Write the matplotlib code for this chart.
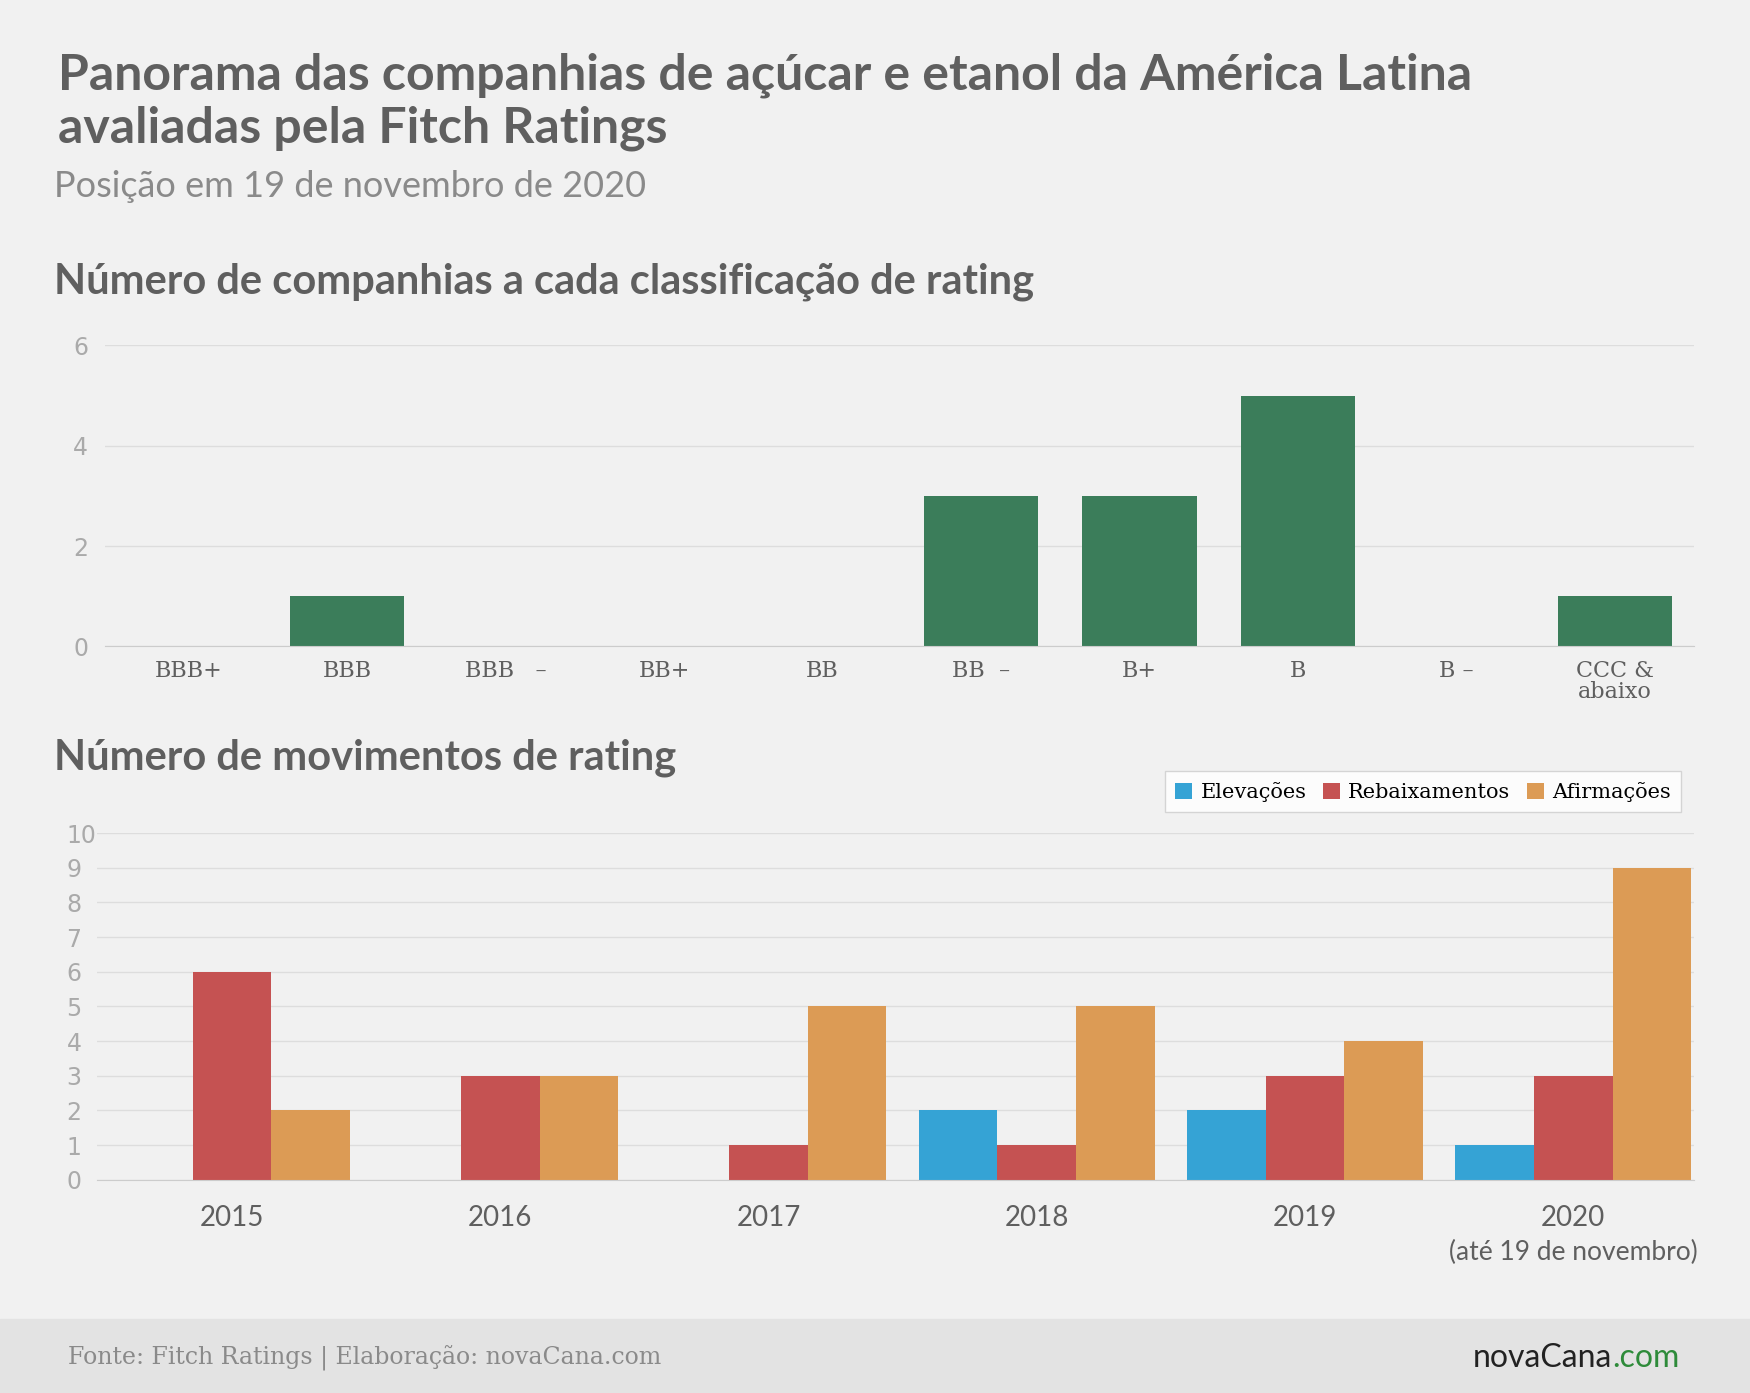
import matplotlib
matplotlib.use("Agg")
import matplotlib.pyplot as plt
import numpy as np
from matplotlib.patches import Rectangle

ratings = ["BBB+", "BBB", "BBB   –", "BB+", "BB", "BB  –", "B+", "B", "B –", "CCC &\nabaixo"]
companies = [0, 1, 0, 0, 0, 3, 3, 5, 0, 1]
years = ["2015", "2016", "2017", "2018", "2019", "2020\n(até 19 de novembro)"]
elevacoes = [0, 0, 0, 2, 2, 1]
rebaixamentos = [6, 3, 1, 1, 3, 3]
afirmacoes = [2, 3, 5, 5, 4, 9]

BG = "#f1f1f1"
TC = "#5f5f5f"
fig = plt.figure(figsize=(17.5, 13.93), dpi=100, facecolor=BG)
fig.patches.append(Rectangle((0, 0), 1, 0.053, transform=fig.transFigure, color="#e3e3e3", zorder=0))
fs = "Lato"
fig.text(0.033, 0.927, "Panorama das companhias de açúcar e etanol da América Latina\navaliadas pela Fitch Ratings",
         fontsize=36, fontweight="bold", color=TC, family=fs, va="center", linespacing=1.2)
fig.text(0.031, 0.866, "Posição em 19 de novembro de 2020", fontsize=26, color="#8a8a8a", family=fs, va="center")
fig.text(0.031, 0.798, "Número de companhias a cada classificação de rating", fontsize=30, fontweight="bold", color=TC, family=fs, va="center")
fig.text(0.031, 0.456, "Número de movimentos de rating", fontsize=30, fontweight="bold", color=TC, family=fs, va="center")
fig.text(0.039, 0.025, "Fonte: Fitch Ratings | Elaboração: novaCana.com", fontsize=17, color="#8a8a8a", family="DejaVu Serif", va="center")
fig.text(0.921, 0.025, "novaCana", fontsize=23, color="#222222", family=fs, va="center", ha="right")
fig.text(0.921, 0.025, ".com", fontsize=23, color="#2e8b3a", family=fs, va="center", ha="left")

def style(ax):
    ax.set_facecolor(BG)
    for s in ["top", "right", "left"]:
        ax.spines[s].set_visible(False)
    ax.spines["bottom"].set_color("#cccccc")
    ax.grid(axis="y", color="#dddddd", lw=1)
    ax.set_axisbelow(True)
    ax.tick_params(axis="y", length=0, colors="#aaaaaa", labelsize=17, pad=12)
    ax.tick_params(axis="x", length=0)

ax1 = fig.add_axes([0.060, 0.536, 0.908, 0.216])
style(ax1)
x1 = np.arange(len(ratings))
ax1.bar(x1, companies, width=0.72, color="#3b7d5a")
ax1.set_xlim(-0.53, 9.5)
ax1.set_ylim(0, 6)
ax1.set_yticks([0, 2, 4, 6])
ax1.set_xticks(x1)
ax1.set_xticklabels(ratings, fontsize=16, color=TC, family="DejaVu Serif", linespacing=0.95)
ax1.tick_params(axis="x", pad=10)

ax2 = fig.add_axes([0.0555, 0.153, 0.9125, 0.249])
style(ax2)
x2 = np.arange(len(years))
w = 0.293
ax2.bar(x2 - w, elevacoes, w, color="#35a3d5", label="Elevações")
ax2.bar(x2, rebaixamentos, w, color="#c55252", label="Rebaixamentos")
ax2.bar(x2 + w, afirmacoes, w, color="#dc9b55", label="Afirmações")
ax2.set_xlim(-0.503, 5.45)
ax2.set_ylim(0, 10)
ax2.set_yticks(range(11))
ax2.tick_params(axis="y", pad=22)
for t in ax2.get_yticklabels():
    t.set_horizontalalignment("left")
ax2.set_xticks(x2)
ax2.set_xticklabels(years[:5] + ["2020"], fontsize=20, color=TC, family=fs)
ax2.tick_params(axis="x", pad=18)
ax2.text(5, -2.1, "(até 19 de novembro)", fontsize=19, color=TC, family=fs, ha="center", va="center")
leg = ax2.legend(loc="lower right", bbox_to_anchor=(0.9985, 1.03), ncol=3, frameon=True, fancybox=False,
                 prop={"family": "DejaVu Serif", "size": 15}, handlelength=0.8, handleheight=0.8,
                 handletextpad=0.4, columnspacing=0.8, borderpad=0.5, edgecolor="#cccccc")
leg.get_frame().set_facecolor("white")

fig.savefig("out.png", dpi=100, facecolor=BG)
